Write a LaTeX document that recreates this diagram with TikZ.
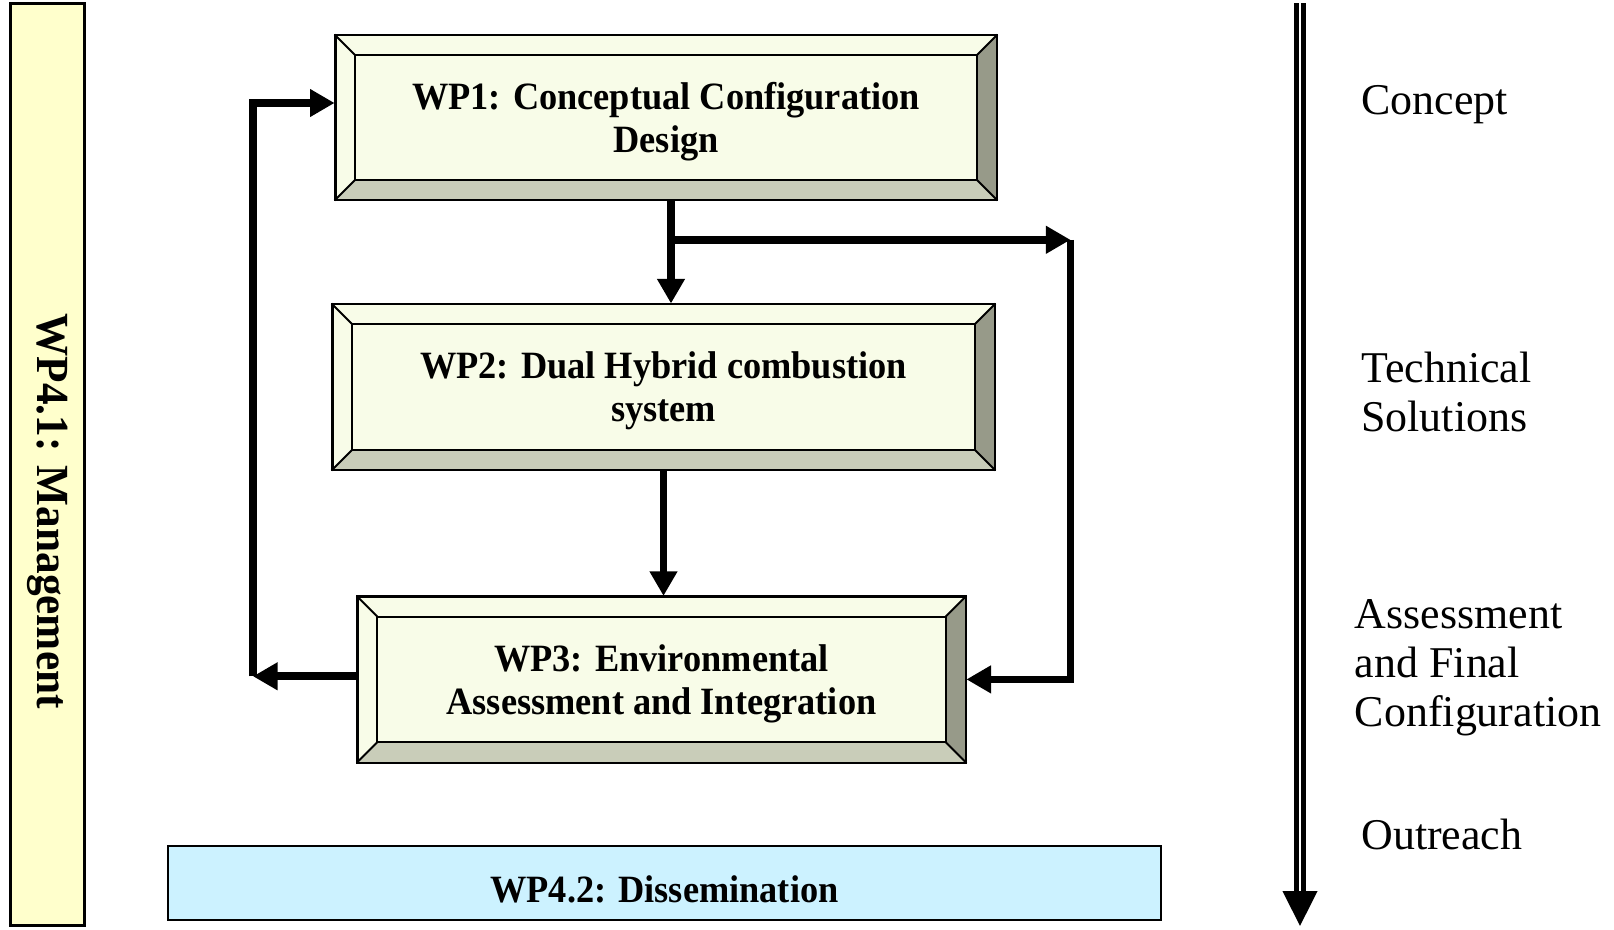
\documentclass[tikz,border=0pt]{standalone}
\usepackage{fontspec}
\setmainfont{Liberation Serif}
\newfontfamily\narrowfont[FakeStretch=0.94]{Liberation Serif}
\usetikzlibrary{calc,arrows.meta,positioning}

\definecolor{facecol}{RGB}{248,252,232}
\definecolor{bevbot}{RGB}{201,205,185}
\definecolor{bevright}{RGB}{151,154,137}
\definecolor{mgmtcol}{RGB}{255,255,204}
\definecolor{dissemcol}{RGB}{204,242,255}

\tikzset{node distance=5.42cm, auto,
  wpbox/.style={draw, line width=1.1pt, fill=facecol, minimum height=3.3cm,
    align=center, text depth=0pt,
    font=\narrowfont\bfseries\fontsize{22}{24.4}\selectfont},
  edge/.style={line width=1.1pt},
  flow/.style={line width=4.4pt, -{Triangle[length=14pt,width=15pt]}},
  phase/.style={anchor=west, inner sep=0pt, align=left,
    font=\fontsize{25}{28}\selectfont}}

% bevelled frame around a work package box
\def\bd{20.6}
\newcommand{\bevel}[1]{%
  \fill[bevbot] (#1.south west) -- (#1.south east) -- ($(#1.south east)+(-\bd,-\bd)$)
    -- ($(#1.south west)+(\bd,-\bd)$) -- cycle;
  \fill[bevright] (#1.north east) -- (#1.south east) -- ($(#1.south east)+(-\bd,-\bd)$)
    -- ($(#1.north east)+(-\bd,\bd)$) -- cycle;
  \draw[edge] ($(#1.north west)+(\bd,\bd)$) rectangle ($(#1.south east)+(-\bd,-\bd)$);
  \draw[edge] (#1.north west) -- ++(\bd,\bd);
  \draw[edge] (#1.north east) -- ++(-\bd,\bd);
  \draw[edge] (#1.south east) -- ++(-\bd,-\bd);
  \draw[edge] (#1.south west) -- ++(\bd,-\bd);
  \draw[edge] (#1.north west) rectangle (#1.south east);}

\begin{document}
\begin{tikzpicture}[x=0.02cm, y=-0.02cm]
  \useasboundingbox (0,0) rectangle (1614,930);

  % management bar
  \node (mgmt) [draw, line width=1.7pt, fill=mgmtcol, minimum width=1.48cm,
    minimum height=18.46cm] at (47.4,464.5) {};
  \node [rotate=-90, font=\narrowfont\bfseries\fontsize{26.2}{28}\selectfont]
    at ($(mgmt.center)+(0,46.5)$) {WP4.1: Management};

  % work packages
  \node (wp1) [wpbox, minimum width=13.22cm, minimum height=3.28cm] at (666,117.5)
    {WP1: Conceptual Configuration\\Design};
  \node (wp2) [wpbox, minimum width=13.24cm, below of=wp1, node distance=5.39cm,
    xshift=-0.05cm] {WP2: Dual Hybrid combustion\\system};
  \node (wp3) [wpbox, minimum width=12.16cm, below of=wp2, node distance=5.85cm,
    xshift=-0.04cm] {WP3: Environmental\\Assessment and Integration};
  \bevel{wp1}
  \bevel{wp2}
  \bevel{wp3}

  \node (dissem) [draw, line width=1.4pt, fill=dissemcol, minimum width=19.86cm,
    minimum height=1.48cm, text height=22.7pt, text depth=0pt,
    font=\narrowfont\bfseries\fontsize{22}{24.4}\selectfont]
    at (664.4,883) {WP4.2: Dissemination};

  % connectors
  \coordinate (split) at (671,239.8);
  \coordinate (corner) at (1070.5,239.8);
  \coordinate (back) at (253,676.3);
  \coordinate (fbtop) at (253,103);
  \draw[flow] (wp1.south -| split) -- (wp2.north -| split);
  \draw[flow] (split) -- (corner);
  \draw[flow] (corner) -- (corner |- wp3.east) -- (wp3.east);
  \draw[flow] (wp2.south) -- (wp2.south |- wp3.north);
  \draw[flow] (back -| wp3.west) -- (back);
  \draw[flow] (back) -- (fbtop) -- (fbtop -| wp1.west);

  % phases
  \coordinate (flowtop) at (1300,3);
  \coordinate (flowend) at (1300,926);
  \draw[double, line width=0.09cm, double distance=0.055cm,
    -{Triangle[length=0.7cm,width=0.68cm]}] (flowtop) -- (flowend);
  \node (concept) [phase] at (1361,105) {Concept};
  \node (tech) [phase] at (1361,392) {Technical\\Solutions};
  \node (assess) [phase] at (1354.6,668) {Assessment\\and Final\\Configuration};
  \node (outreach) [phase] at (1361,834) {Outreach};
\end{tikzpicture}
\end{document}
